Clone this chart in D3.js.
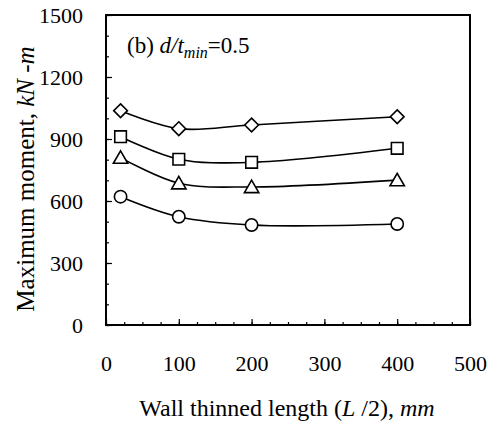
<!DOCTYPE html>
<html>
<head>
<meta charset="utf-8">
<script src="https://cdn.jsdelivr.net/npm/d3@7"></script>
<style>
  body { margin: 0; background: #fff; }
  svg text { font-family: "Liberation Serif", "DejaVu Serif", serif; fill: #000; }
</style>
</head>
<body>
<div id="chart"></div>
<script>
// values
const lengths = [20, 100, 200, 400];
const diamondVals = [1037, 950, 968, 1008];
const squareVals = [911, 802, 787, 855];
const triangleVals = [810, 686, 668, 701];
const circleVals = [621, 524, 484, 489];
const xTicks = [0, 100, 200, 300, 400, 500];
const yTicks = [0, 300, 600, 900, 1200, 1500];

const frame_width = 496;
const frame_height = 426;
const margins = {left: 106, right: 26, top: 15, bottom: 101};

const svg = d3.select("#chart")
  .append("svg")
    .attr("width", frame_width)
    .attr("height", frame_height);

const x_scale = d3.scaleLinear()
  .domain([0, 500])
  .range([margins.left, frame_width - margins.right]);

const y_scale = d3.scaleLinear()
  .domain([0, 1500])
  .range([frame_height - margins.bottom, margins.top]);

const bottom = frame_height - margins.bottom;

// minor ticks (inside)
svg.append("g")
  .attr("transform", "translate(0," + bottom + ")")
  .call(d3.axisBottom(x_scale).tickValues(d3.range(0, 501, 25)).tickSize(-3).tickFormat(""))
  .call(g => g.select(".domain").remove());

svg.append("g")
  .attr("transform", "translate(" + margins.left + ",0)")
  .call(d3.axisLeft(y_scale).tickValues(d3.range(0, 1501, 100)).tickSize(-3).tickFormat(""))
  .call(g => g.select(".domain").remove());

// major ticks with labels
const xAxis = svg.append("g")
  .attr("transform", "translate(0," + bottom + ")")
  .call(d3.axisBottom(x_scale).tickValues(xTicks).tickSize(-6).tickPadding(30).tickFormat(d3.format("d")));
xAxis.select(".domain").remove();

const yAxis = svg.append("g")
  .attr("transform", "translate(" + margins.left + ",0)")
  .call(d3.axisLeft(y_scale).tickValues(yTicks).tickSize(-6).tickPadding(23).tickFormat(d3.format("d")));
yAxis.select(".domain").remove();

svg.selectAll(".tick text")
  .attr("font-size", "22px")
  .attr("font-family", "Liberation Serif");
svg.selectAll(".tick line").attr("stroke-width", 1.2);

// frame
svg.append("rect")
  .attr("x", x_scale(0))
  .attr("y", y_scale(1500))
  .attr("width", x_scale(500) - x_scale(0))
  .attr("height", y_scale(0) - y_scale(1500))
  .attr("fill", "none")
  .attr("stroke", "#000")
  .attr("stroke-width", 2);

// lines
const line = d3.line()
  .x((d, i) => x_scale(lengths[i]))
  .y(d => y_scale(d))
  .curve(d3.curveCatmullRom.alpha(0.5));

const series = [
  {vals: diamondVals, sym: d3.symbolDiamond2, size: 120},
  {vals: squareVals, sym: d3.symbolSquare, size: 135},
  {vals: triangleVals, sym: d3.symbolTriangle, size: 90},
  {vals: circleVals, sym: d3.symbolCircle, size: 120}
];

series.forEach(s => {
  svg.append("path")
    .attr("d", line(s.vals))
    .attr("fill", "none")
    .attr("stroke", "#000")
    .attr("stroke-width", 1.6);
});

series.forEach(s => {
  svg.selectAll(null)
    .data(s.vals)
    .enter()
    .append("path")
      .attr("d", d3.symbol().type(s.sym).size(s.size))
      .attr("transform", (d, i) => {
        let dy = s.sym === d3.symbolTriangle ? 1.5 : 0;
        return "translate(" + x_scale(lengths[i]) + "," + (y_scale(d) + dy) + ")";
      })
      .attr("fill", "#fff")
      .attr("stroke", "#000")
      .attr("stroke-width", 1.6);
});

// annotation
const note = svg.append("text")
  .attr("x", 127)
  .attr("y", 53)
  .attr("font-size", "23px");
note.append("tspan").text("(b) ");
note.append("tspan").attr("font-style", "italic").text("d/t");
note.append("tspan").attr("font-style", "italic").attr("font-size", "16px").attr("dy", 5).text("min");
note.append("tspan").attr("dy", -5).text("=0.5");

// x title
const xt = svg.append("text")
  .attr("x", 287)
  .attr("y", 416)
  .attr("text-anchor", "middle")
  .attr("font-size", "24px");
xt.append("tspan").text("Wall thinned length (");
xt.append("tspan").attr("font-style", "italic").text("L");
xt.append("tspan").text(" /2), ");
xt.append("tspan").attr("font-style", "italic").text("mm");

// y title
const yt = svg.append("text")
  .attr("transform", "translate(34,179) rotate(-90)")
  .attr("text-anchor", "middle")
  .attr("font-size", "25px");
yt.append("tspan").text("Maximum moment, ");
yt.append("tspan").attr("font-style", "italic").text("kN -m");
</script>
</body>
</html>
